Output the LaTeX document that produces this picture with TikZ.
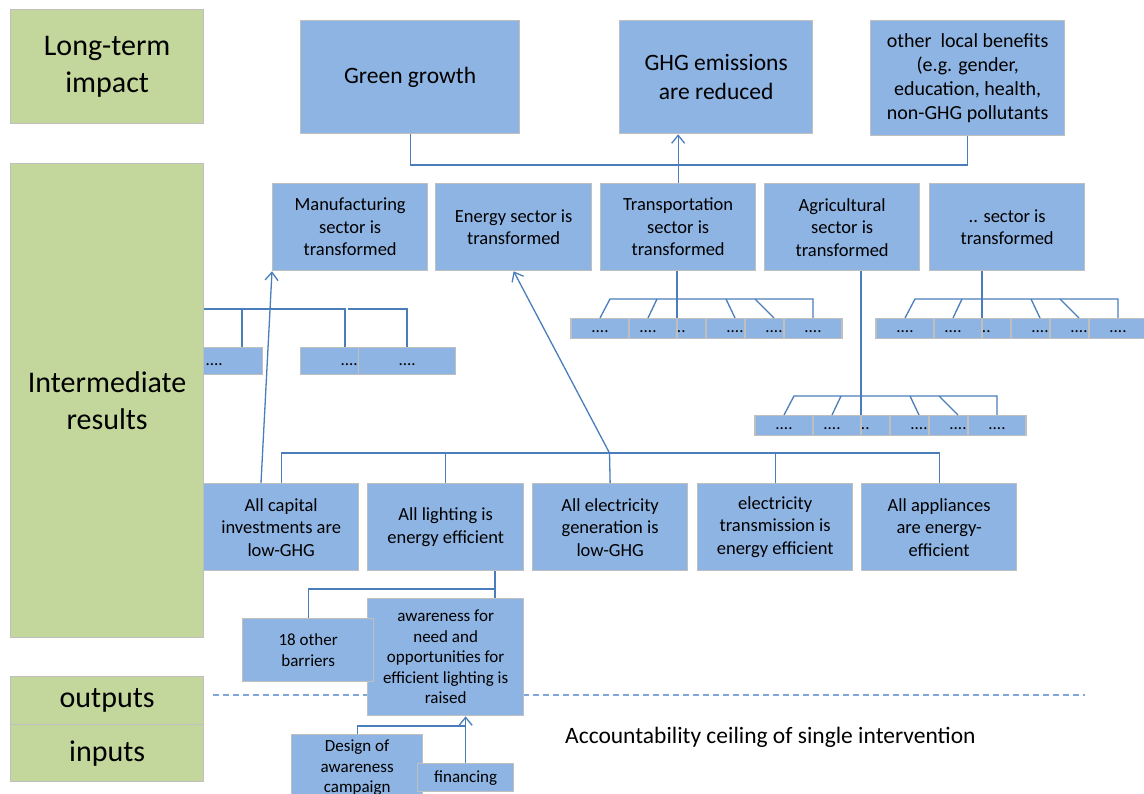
\documentclass[tikz,border=0pt]{standalone}
\usepackage{fontspec}
\setmainfont{Carlito}
\usetikzlibrary{arrows.meta}
\definecolor{boxblue}{HTML}{8EB4E3}
\definecolor{boxgreen}{HTML}{C3D69B}
\definecolor{edgegray}{HTML}{BFBFBF}
\definecolor{linkblue}{HTML}{4A7EBB}
\definecolor{ceilblue}{HTML}{7EA6D8}
\tikzset{
  panel/.style={draw=edgegray, line width=1.3pt, fill=#1, inner sep=0pt,
    anchor=north west, align=center, text=black},
  bbox/.style={panel=boxblue},
  gbox/.style={panel=boxgreen, minimum width=193pt, font=\fontsize{30}{37}\selectfont},
  topfont/.style={font=\fontsize{23.5}{29}\selectfont},
  secfont/.style={font=\fontsize{18.5}{22.5}\selectfont},
  smallfont/.style={font=\fontsize{17}{20.5}\selectfont},
  dotbox/.style={bbox, anchor=north, minimum width=58pt, minimum height=20pt,
    font=\fontsize{17}{20}\selectfont, text height=12.75pt, text depth=4.25pt},
  conn/.style={draw=linkblue, line width=1.3pt},
  arr/.style={conn, -{Straight Barb[length=8pt,width=13pt,line width=1.3pt]}},
  ceiling/.style={draw=ceilblue, line width=1.3pt, dash pattern=on 6pt off 4pt},
}
\begin{document}
\begin{tikzpicture}[x=1pt,y=-1pt]
\useasboundingbox (0,0) rectangle (1144,794);
\clip (0,0) rectangle (1144,794);
\fill[white] (0,0) rectangle (1144,794);

% ---- results under the manufacturing sector (partly behind the side label)
\coordinate (mbusL) at (150,309);
\coordinate (mbusA) at (242,309);
\coordinate (mbusB) at (345,309);
\coordinate (mbusC0) at (348,309);
\coordinate (mbusC) at (407,309);
\node[dotbox, anchor=north west, minimum width=97pt, minimum height=27pt] (mA) at (165,347) {....};
\node[dotbox, anchor=north west, minimum width=97pt, minimum height=27pt] (mB) at (300,347) {....};
\node[dotbox, anchor=north west, minimum width=97pt, minimum height=27pt] (mC) at (358,347) {....};
\draw[conn] (mbusL) -- (mbusB) -- (mbusB |- mB.north);
\draw[conn] (mbusA) -- (mbusA |- mA.north);
\draw[conn] (mbusC0) -- (mbusC) -- (mbusC |- mC.north);

% ---- level labels
\node[gbox, minimum height=114pt, text depth=4pt] (lt) at (10,9) {Long-term\\impact};
\node[gbox, minimum height=474pt] (ir) at (10,163) {Intermediate\\results};
\node[gbox, minimum height=48pt, text depth=6pt] (op) at (10,676) {outputs};
\node[gbox, minimum height=57pt] (ip) at (10,724) {inputs};

% ---- long-term impacts
\node[bbox, topfont, minimum width=219pt, minimum height=113pt] (gg) at (300,20) {Green growth};
\node[bbox, topfont, minimum width=193pt, minimum height=113pt] (ghg) at (619,20) {GHG emissions\\are reduced};
\node[bbox, font=\fontsize{20}{24}\selectfont, minimum width=194pt, minimum height=115pt] (olb) at (870,20)
  {other\ \ local benefits\\(e.g. gender,\\education, health,\\non-GHG pollutants};

% ---- sector transformations
\node[bbox, secfont, minimum width=155pt, minimum height=87pt] (mf) at (272,183) {Manufacturing\\sector is\\transformed};
\node[bbox, secfont, minimum width=156pt, minimum height=87pt] (en) at (435,183) {Energy sector is\\transformed};
\node[bbox, secfont, minimum width=155pt, minimum height=87pt] (tr) at (600,183) {Transportation\\sector is\\transformed};
\node[bbox, secfont, minimum width=155pt, minimum height=87pt] (ag) at (764,183) {Agricultural\\sector is\\transformed};
\node[bbox, secfont, minimum width=155pt, minimum height=87pt] (ds) at (929,183) {.. sector is\\transformed};

\coordinate (jtop) at (677,165);
\draw[conn] (gg.south) |- (jtop) -| (olb.south);
\draw[arr] (tr.north) -- (tr.north |- ghg.south);

% ---- sub-results of transport, agriculture and further sectors
\foreach \p/\dx/\dy in {t/0/0, a/184/97, r/305/0} {
  \foreach \i/\cx in {3/677, 2/648, 1/600, 4/735, 5/774, 6/813}
    \node[dotbox] (\p\i) at (\cx+\dx,318+\dy) {....};
  \coordinate (\p bus1) at (610+\dx,299+\dy);
  \coordinate (\p bus2) at (657+\dx,299+\dy);
  \coordinate (\p bus4) at (726+\dx,299+\dy);
  \coordinate (\p bus5) at (755+\dx,299+\dy);
  \draw[conn] (\p1.north) -- (\p bus1) -- (\p6.north |- \p bus1) -- (\p6.north);
  \draw[conn] (\p bus2) -- (\p2.north);
  \draw[conn] (\p bus4) -- (\p4.north);
  \draw[conn] (\p bus5) -- (\p5.north);
}
\draw[conn] (t3.north |- tr.south) -- (t3.north);
\draw[conn] (a3.north |- ag.south) -- (a3.north);
\draw[conn] (r3.north |- ds.south) -- (r3.north);

% ---- intermediate results of the energy sector
\node[bbox, secfont, minimum width=155pt, minimum height=87pt] (cap) at (203,483) {All capital\\investments are\\low-GHG};
\node[bbox, secfont, minimum width=156pt, minimum height=87pt] (lit) at (367,483) {All lighting is\\energy efficient};
\node[bbox, secfont, minimum width=155pt, minimum height=87pt] (ele) at (532,483) {All electricity\\generation is\\low-GHG};
\node[bbox, secfont, minimum width=155pt, minimum height=87pt] (tra) at (697,483) {electricity\\transmission is\\energy efficient};
\node[bbox, secfont, minimum width=155pt, minimum height=87pt] (app) at (861,483) {All appliances\\are energy-\\efficient};

\coordinate (jb) at (609.5,453);
\draw[conn] (cap.north) |- (jb) -| (app.north);
\draw[conn] (lit.north) -- (lit.north |- jb);
\draw[conn] (ele.north) -- (jb);
\draw[conn] (tra.north) -- (tra.north |- jb);
\draw[arr] (jb) -- (en.south);
\coordinate (capt) at (261,483);
\draw[arr] (capt) -- (mf.south west);

% ---- accountability ceiling
\coordinate (ceilL) at (213,695);
\coordinate (ceilR) at (1085,695);
\draw[ceiling] (ceilL) -- (ceilR);
\node[anchor=west, topfont, text=black, inner sep=0pt] (acc) at (565,737) {Accountability ceiling of single intervention};

% ---- barriers to efficient lighting
\node[bbox, smallfont, minimum width=156pt, minimum height=117pt] (awa) at (367,598)
  {awareness for\\need and\\opportunities for\\efficient lighting is\\raised};
\node[bbox, smallfont, minimum width=131pt, minimum height=63pt] (oth) at (242,618) {18 other\\barriers};
\coordinate (jl) at (495,589);
\draw[conn] (jl |- lit.south) -- (jl) -| (oth.north);
\draw[conn] (jl) -- (jl |- awa.north);

% ---- inputs
\node[bbox, smallfont, minimum width=131pt, minimum height=66pt] (des) at (291,734) {Design of\\awareness\\campaign};
\node[bbox, smallfont, minimum width=96pt, minimum height=28pt] (fin) at (417,763) {financing};
\coordinate (jd) at (465,726);
\draw[conn] (des.north) |- (jd);
\draw[arr] (fin.north) -- (fin.north |- awa.south);
\end{tikzpicture}
\end{document}
